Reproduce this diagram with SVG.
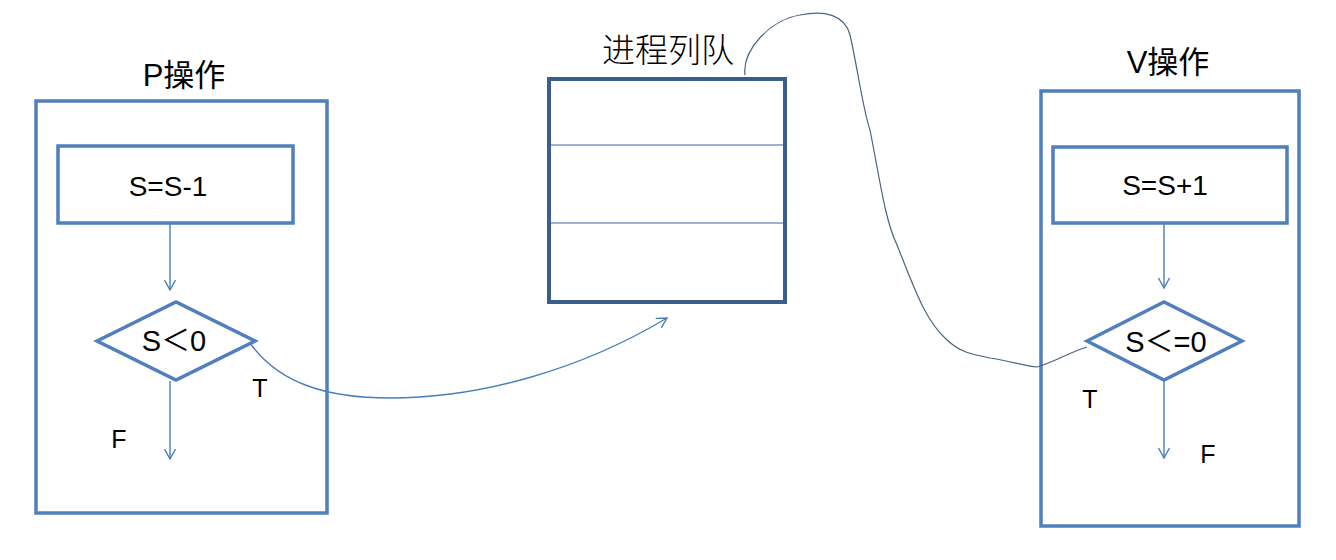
<svg xmlns="http://www.w3.org/2000/svg" width="1336" height="560" viewBox="0 0 1336 560">
<style>
.frame{fill:none;stroke:#4F7FBC;stroke-width:3.5}
.queue{fill:none;stroke:#3A5F8C;stroke-width:4}
.div{stroke:#3F6A9E;stroke-width:1.2}
.lbl{font-family:"Liberation Sans","Noto Sans CJK SC",sans-serif;fill:#000}
.title{font-family:"Liberation Sans","Noto Sans CJK SC",sans-serif;font-size:31px;fill:#000}
.conn{fill:none;stroke:#4A7EBB;stroke-width:1.4}
.wire{fill:none;stroke:#4A6384;stroke-width:1.2}
</style>
<defs>
<marker id="arr" viewBox="0 0 12 12" refX="11" refY="6" markerWidth="12" markerHeight="12" markerUnits="userSpaceOnUse" orient="auto">
<polyline points="1,0.5 11,6 1,11.5" fill="none" stroke="#4A7EBB" stroke-width="1.4"/>
</marker>
</defs>
<rect width="1336" height="560" fill="#fff"/>

<g id="p-op">
<text class="title" x="184" y="86" text-anchor="middle">P操作</text>
<rect class="frame" x="36" y="101" width="291" height="412"/>
</g>
<g id="p-dec">
<rect class="frame" x="58" y="146" width="235" height="77"/>
<text class="lbl" x="168" y="196" font-size="28" text-anchor="middle">S=S-1</text>
</g>
<g id="p-cond">
<polygon class="frame" points="97,341 176,302 255,341 176,380"/>
<text class="lbl" x="174" y="351" font-size="29" text-anchor="middle">S＜0</text>
</g>
<g id="p-labels">
<text class="lbl" x="260" y="397" font-size="25" text-anchor="middle">T</text>
<text class="lbl" x="119" y="448" font-size="25" text-anchor="middle">F</text>
</g>

<g id="queue">
<text x="668" y="62" font-family="'Noto Sans CJK SC',sans-serif" font-size="33" font-weight="300" text-anchor="middle" fill="#000">进程列队</text>
<rect class="queue" x="549" y="79" width="236" height="223"/>
<line class="div" x1="551" y1="145" x2="783" y2="145"/>
<line class="div" x1="551" y1="223" x2="783" y2="223"/>
</g>

<g id="v-op">
<text class="title" x="1168" y="73" text-anchor="middle">V操作</text>
<rect class="frame" x="1041" y="91" width="258" height="435"/>
</g>
<g id="v-inc">
<rect class="frame" x="1053" y="147" width="234" height="76"/>
<text class="lbl" x="1165" y="195" font-size="28" text-anchor="middle">S=S+1</text>
</g>
<g id="v-cond">
<polygon class="frame" points="1087,341 1164,302 1242,341 1164,380"/>
<text class="lbl" x="1166" y="352" font-size="29" text-anchor="middle">S＜=0</text>
</g>
<g id="v-labels">
<text class="lbl" x="1090" y="408" font-size="25" text-anchor="middle">T</text>
<text class="lbl" x="1208" y="463" font-size="25" text-anchor="middle">F</text>
</g>

<g id="connectors">
<line class="conn" x1="170" y1="224" x2="170" y2="290" marker-end="url(#arr)"/>
<line class="conn" x1="170" y1="381" x2="170" y2="459" marker-end="url(#arr)"/>
<line class="conn" x1="1164" y1="224" x2="1164" y2="288" marker-end="url(#arr)"/>
<line class="conn" x1="1164" y1="381" x2="1164" y2="458" marker-end="url(#arr)"/>
<path class="conn" d="M250,343 C280,385 330,398 390,398 C480,398 580,370 667,318" marker-end="url(#arr)"/>
<path class="wire" d="M745,75 C742,50 770,20 800,15 C825,10 845,15 850,35 C858,70 863,110 870,130 C880,180 885,220 897,245 C915,290 925,320 947,340 C960,352 970,354 990,358 C1010,361 1025,366 1037,367 C1055,362 1070,352 1087,347"/>
</g>
</svg>
